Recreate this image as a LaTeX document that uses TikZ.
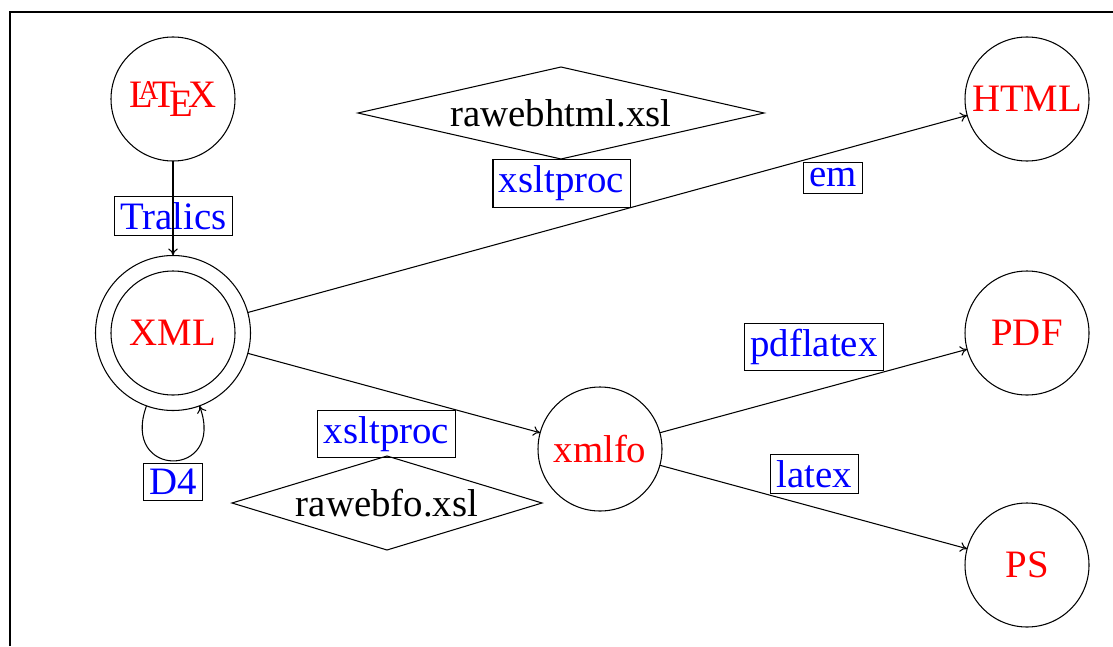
\documentclass[tikz,border=0pt]{standalone}
\usepackage{fontspec}
\setmainfont{Liberation Serif}
\usetikzlibrary{shapes.geometric, arrows.meta}
\tikzset{
  every node/.append style={font=\fontsize{22.1}{26}\selectfont},
  format/.style={circle, draw, text=red, minimum size=2.48cm, inner sep=0pt, outer sep=0pt},
  tool/.style={rectangle, draw, text=blue, inner sep=3.4pt},
  sheet/.style={diamond, draw, inner sep=0pt, outer sep=0pt},
}

\begin{document}
\begin{tikzpicture}[line width=0.6pt, >={Computer Modern Rightarrow[length=4pt, width=5.5pt]}]
        \useasboundingbox (0, 0) rectangle (22.26, 12.92);

        % Frame - only top and left show
        \draw[line width=1.1pt] (0.205, 0) -- (0.205, 12.68) -- (22.26, 12.68);

        % Formats
        \node[format] (latex) at (3.46, 10.94) {\LaTeX};
        \node[format] (xml) at (3.46, 6.26) {XML};
        \node[circle, draw, minimum size=3.1cm, inner sep=0pt, outer sep=0pt] (xmlouter) at (3.46, 6.26) {};
        \node[format] (html) at (20.54, 10.94) {HTML};
        \node[format] (pdf) at (20.54, 6.26) {PDF};
        \node[format] (ps) at (20.54, 1.62) {PS};
        \node[format] (xmlfo) at (12, 3.94) {xmlfo};

        % Stylesheets
        \node[sheet, aspect=4.41, minimum width=8.12cm, minimum height=1.84cm] (rawebhtml) at (11.22, 10.66) {rawebhtml.xsl};
        \node[sheet, aspect=3.3, minimum width=6.2cm, minimum height=1.88cm] (rawebfo) at (7.74, 2.86) {rawebfo.xsl};

        % Tools
        \node[tool] (tralics) at (3.47, 8.6) {Tralics};
        \node[tool] (xsltprochtml) at (11.23, 9.25) {xsltproc};
        \node[tool] (em) at (16.66, 9.36) {em};
        \node[tool] (pdflatex) at (16.28, 5.98) {pdflatex};
        \node[tool] (latextool) at (16.29, 3.44) {latex};
        \node[tool] (xsltprocfo) at (7.73, 4.24) {xsltproc};
        \node[tool] (dfour) at (3.46, 3.28) {D4};

        % Conversions
        \draw[->] (latex) -- (xmlouter);
        \draw[->] (xmlouter) -- (html);
        \draw[->] (xmlouter) -- (xmlfo);
        \draw[->] (xmlfo) -- (pdf);
        \draw[->] (xmlfo) -- (ps);
        \draw[->] (xmlouter.-110) to[out=-110, in=-70, distance=1.56cm] (xmlouter.-70);
\end{tikzpicture}
\end{document}
